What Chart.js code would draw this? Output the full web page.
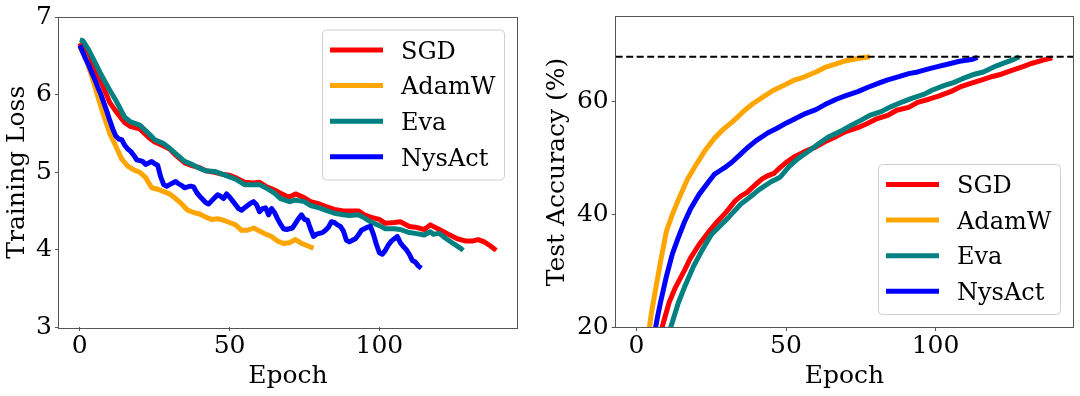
<!DOCTYPE html>
<html>
<head>
<meta charset="utf-8">
<script src="https://cdn.jsdelivr.net/npm/chart.js@4.4.0/dist/chart.umd.min.js"></script>
<style>
  html, body { margin: 0; padding: 0; background: #fff; }
  .wrap { position: relative; width: 1080px; height: 396px; overflow: hidden; }
  .panel { position: absolute; top: 0; width: 540px; height: 396px; }
  #lossPanel { left: 0; }
  #accPanel { left: 540px; }
</style>
</head>
<body>
<div class="wrap">
  <div class="panel" id="lossPanel"><canvas id="lossChart" width="540" height="396"></canvas></div>
  <div class="panel" id="accPanel"><canvas id="accChart" width="540" height="396"></canvas></div>
</div>
<script>
// ---- data ----
const methods = ['SGD', 'AdamW', 'Eva', 'NysAct'];
const epochTicks = [0, 50, 100];
const lossTicks = [3, 4, 5, 6, 7];
const accTicks = [20, 40, 60];
const targetAccuracy = 68.0;

// training loss
const sgdLossEpochs = [0,3,7,10,12,15,17,20,23,25,28,30,32,35,37,40,42,45,48,50,52,55,58,60,62,65,67,69,70,72,75,77,80,82,85,88,90,93,95,97,100,102,105,107,110,112,115,117,120,123,126,129,131,133,135,137,139];
const sgdLoss = [6.67,6.47,6.18,5.90,5.79,5.64,5.59,5.56,5.45,5.39,5.34,5.30,5.22,5.12,5.09,5.06,5.02,5.00,4.97,4.96,4.93,4.87,4.86,4.87,4.82,4.77,4.73,4.69,4.68,4.72,4.67,4.62,4.59,4.56,4.52,4.50,4.50,4.50,4.45,4.42,4.39,4.34,4.35,4.36,4.30,4.29,4.26,4.32,4.26,4.20,4.14,4.11,4.11,4.13,4.10,4.05,3.99];

const adamwLossEpochs = [0,2,4,6,8,10,12,14,16,18,20,22,24,26,28,30,32,34,36,38,40,42,44,46,48,50,52,54,56,58,60,62,64,66,68,70,72,74,76,78];
const adamwLoss = [6.62,6.47,6.24,5.98,5.73,5.50,5.34,5.17,5.08,5.03,5.00,4.93,4.80,4.78,4.75,4.72,4.66,4.59,4.51,4.48,4.46,4.42,4.39,4.40,4.38,4.35,4.32,4.25,4.25,4.28,4.24,4.20,4.17,4.11,4.08,4.09,4.13,4.08,4.05,4.02];

const evaLossEpochs = [0,1,3,7,10,12,15,17,20,23,25,28,30,32,35,37,40,42,45,48,50,52,55,58,60,62,65,67,70,72,75,77,80,82,85,88,90,93,95,97,100,102,105,107,110,112,115,117,118,120,122,125,127,128];
const evaLoss = [6.71,6.70,6.58,6.27,6.06,5.93,5.71,5.65,5.61,5.50,5.42,5.37,5.31,5.24,5.14,5.11,5.05,5.02,5.01,4.97,4.94,4.91,4.84,4.84,4.84,4.80,4.73,4.66,4.62,4.64,4.62,4.57,4.54,4.51,4.47,4.45,4.44,4.45,4.41,4.36,4.31,4.27,4.27,4.26,4.22,4.21,4.19,4.23,4.20,4.21,4.15,4.07,4.02,3.99];

// NysAct loss, one value per epoch 0..114
const nysactLoss = [
  6.64,6.55,6.46,6.38,6.29,6.20,6.10,6.01,5.90,5.79,
  5.67,5.56,5.47,5.43,5.42,5.35,5.30,5.27,5.22,5.16,
  5.15,5.14,5.10,5.12,5.14,5.11,5.09,4.94,4.84,4.82,
  4.84,4.86,4.88,4.85,4.83,4.80,4.81,4.82,4.81,4.74,
  4.69,4.65,4.61,4.59,4.63,4.67,4.71,4.69,4.66,4.72,
  4.68,4.63,4.58,4.53,4.51,4.54,4.57,4.60,4.62,4.58,
  4.49,4.53,4.54,4.45,4.53,4.48,4.40,4.33,4.27,4.26,
  4.27,4.28,4.34,4.40,4.45,4.39,4.38,4.27,4.17,4.20,
  4.21,4.22,4.25,4.29,4.36,4.35,4.32,4.30,4.24,4.12,
  4.10,4.12,4.14,4.19,4.25,4.27,4.29,4.30,4.20,4.07,
  3.96,3.94,3.99,4.06,4.11,4.14,4.17,4.09,4.04,4.00,
  3.94,3.86,3.84,3.79,3.76
];
const nysactLossEpochs = nysactLoss.map((_, i) => i);

// test accuracy (values below 20 fall under the axis and are clipped)
const sgdAccEpochs = [0,3,6,8,9,11,13,16,18,21,24,27,30,33,35,37,40,42,44,46,48,50,53,56,60,63,67,70,74,77,80,84,87,91,94,98,101,105,108,112,115,119,122,125,129,132,136,139];
const sgdAcc = [1.5,7.0,14.5,18.8,20.8,24.5,27.0,30.0,32.2,34.7,36.8,38.7,40.4,42.4,43.3,43.9,45.4,46.3,46.9,47.3,48.3,49.2,50.3,51.1,52.0,52.9,53.9,54.7,55.4,56.1,56.9,57.6,58.5,59.0,59.9,60.5,61.0,61.8,62.6,63.3,63.8,64.5,64.9,65.5,66.2,66.8,67.4,67.8];

const adamwAccEpochs = [0,2,4,5,6,8,10,12,14,17,20,23,26,29,32,36,39,43,46,50,53,56,60,63,67,70,74,78];
const adamwAcc = [3.0,11.0,18.7,22.5,25.5,31.5,37.0,40.0,42.6,46.2,48.9,51.4,53.5,55.1,56.4,58.4,59.7,61.1,62.1,63.1,63.9,64.4,65.3,66.1,66.8,67.3,67.7,68.0];

const evaAccEpochs = [0,4,8,10,11,12,14,16,19,22,25,28,31,35,38,41,45,48,51,54,58,61,64,68,71,75,78,82,85,89,92,96,99,103,106,109,113,116,120,123,126,128];
const evaAcc = [1.0,6.0,13.5,17.5,19.2,20.9,24.3,27.0,30.7,33.7,36.4,38.0,39.6,41.9,43.1,44.4,45.8,46.6,48.5,49.9,51.4,52.6,53.7,54.7,55.6,56.7,57.6,58.3,59.1,60.0,60.6,61.3,62.1,62.9,63.4,64.1,64.9,65.3,66.3,66.9,67.5,68.0];

const nysactAccEpochs = [0,3,5,6,7,8,10,12,14,16,18,21,24,26,28,30,32,35,37,40,44,47,50,53,56,60,63,67,70,74,77,81,84,88,91,94,98,101,105,108,112,114];
const nysactAcc = [2.0,9.0,15.5,18.8,21.7,24.3,29.0,33.0,35.9,38.6,40.9,43.6,45.7,47.1,47.8,48.5,49.3,50.8,51.8,53.1,54.5,55.3,56.2,57.0,57.8,58.6,59.5,60.5,61.1,61.8,62.5,63.3,63.9,64.5,65.0,65.3,65.9,66.3,66.8,67.2,67.5,67.9];

const colors = ['#ff0000', '#ffa500', '#008080', '#0000ff'];

const FONT = "'DejaVu Serif', serif";

function pts(xs, ys) {
    return xs.map((x, i) => ({ x: x, y: ys[i] }));
}

function roundRect(ctx, x, y, w, h, r) {
    ctx.beginPath();
    ctx.moveTo(x + r, y);
    ctx.lineTo(x + w - r, y);
    ctx.arcTo(x + w, y, x + w, y + r, r);
    ctx.lineTo(x + w, y + h - r);
    ctx.arcTo(x + w, y + h, x + w - r, y + h, r);
    ctx.lineTo(x + r, y + h);
    ctx.arcTo(x, y + h, x, y + h - r, r);
    ctx.lineTo(x, y + r);
    ctx.arcTo(x, y, x + r, y, r);
    ctx.closePath();
}

// frame, optional reference line and matplotlib-like legend inside the axes
const framePlugin = {
    id: 'frame',
    afterDatasetsDraw(chart, args, opts) {
        const ctx = chart.ctx;
        const a = chart.chartArea;
        ctx.save();

        if (opts.refLine !== undefined) {
            const y = chart.scales.y.getPixelForValue(opts.refLine);
            ctx.strokeStyle = '#000';
            ctx.lineWidth = 2;
            ctx.setLineDash([7, 3.5]);
            ctx.beginPath();
            ctx.moveTo(a.left, y);
            ctx.lineTo(a.right, y);
            ctx.stroke();
            ctx.setLineDash([]);
        }

        ctx.strokeStyle = '#555';
        ctx.lineWidth = 1;
        ctx.strokeRect(Math.round(a.left) - 0.5, Math.round(a.top) - 0.5,
            Math.round(a.right - a.left) + 1, Math.round(a.bottom - a.top) + 1);

        // legend
        const w = 182, h = 150, inset = 12.5;
        const bx = a.right - inset - w;
        const by = opts.legendAt === 'lower right' ? a.bottom - inset - h : a.top + inset;
        roundRect(ctx, bx, by, w, h, 4);
        ctx.fillStyle = 'rgba(255,255,255,0.8)';
        ctx.fill();
        ctx.strokeStyle = '#d0d0d0';
        ctx.lineWidth = 1;
        ctx.stroke();

        ctx.font = '24px ' + FONT;
        ctx.textBaseline = 'alphabetic';
        ctx.textAlign = 'left';
        chart.data.datasets.forEach((ds, i) => {
            const ry = by + 20 + i * 35.6;
            ctx.strokeStyle = ds.borderColor;
            ctx.lineWidth = 5;
            ctx.lineCap = 'butt';
            ctx.beginPath();
            ctx.moveTo(bx + 7.5, ry);
            ctx.lineTo(bx + 60.5, ry);
            ctx.stroke();
            ctx.fillStyle = '#000';
            ctx.fillText(ds.label, bx + 78.5, ry + 8.7);
        });

        ctx.restore();
    }
};

function makeDatasets(series) {
    return series.map((s, i) => ({
        label: methods[i],
        data: s,
        borderColor: colors[i],
        backgroundColor: colors[i],
        borderWidth: 5,
        pointRadius: 0,
        tension: 0,
        fill: false,
        clip: 0,
        order: 4 - i,
        borderJoinStyle: 'round',
        borderCapStyle: 'butt'
    }));
}

function axisOptions(ticks, title, min, max, fixedSize, isY) {
    return {
        type: 'linear',
        min: min,
        max: max,
        afterBuildTicks: (scale) => { scale.ticks = ticks.map(v => ({ value: v })); },
        afterFit: (scale) => {
            if (isY) scale.width = fixedSize; else scale.height = fixedSize;
        },
        grid: { display: true, drawOnChartArea: false, drawTicks: true, tickLength: 4, color: '#555', lineWidth: 1 },
        border: { display: false },
        ticks: {
            color: '#000',
            padding: 3,
            maxRotation: 0,
            autoSkip: false,
            font: { family: FONT, size: 25, lineHeight: 1 }
        },
        title: {
            display: true,
            text: title,
            color: '#000',
            font: { family: FONT, size: 25, lineHeight: 1.2 },
            padding: isY ? { top: 2, bottom: 0 } : { top: 0, bottom: 5 }
        }
    };
}

function baseOptions(padding) {
    return {
        responsive: false,
        devicePixelRatio: 1,
        animation: false,
        events: [],
        layout: { padding: padding },
        plugins: { legend: { display: false }, tooltip: { enabled: false } }
    };
}

function createLossChart() {
    const ctx = document.getElementById('lossChart').getContext('2d');
    const options = baseOptions({ left: 0, right: 23, top: 17.5, bottom: 0 });
    options.scales = {
        x: axisOptions(epochTicks, 'Epoch', -6.95, 145.95, 69, false),
        y: axisOptions(lossTicks, 'Training Loss', 3, 7, 59, true)
    };
    options.plugins.frame = { legendAt: 'upper right' };
    new Chart(ctx, {
        type: 'line',
        data: {
            datasets: makeDatasets([
                pts(sgdLossEpochs, sgdLoss),
                pts(adamwLossEpochs, adamwLoss),
                pts(evaLossEpochs, evaLoss),
                pts(nysactLossEpochs, nysactLoss)
            ])
        },
        options: options,
        plugins: [framePlugin]
    });
}

function createAccuracyChart() {
    const ctx = document.getElementById('accChart').getContext('2d');
    const options = baseOptions({ left: 0, right: 7, top: 17, bottom: 0 });
    options.scales = {
        x: axisOptions(epochTicks, 'Epoch', -6.95, 145.95, 69, false),
        y: axisOptions(accTicks, 'Test Accuracy (%)', 20, 75.06, 75.7, true)
    };
    options.plugins.frame = { legendAt: 'lower right', refLine: targetAccuracy };
    new Chart(ctx, {
        type: 'line',
        data: {
            datasets: makeDatasets([
                pts(sgdAccEpochs, sgdAcc),
                pts(adamwAccEpochs, adamwAcc),
                pts(evaAccEpochs, evaAcc),
                pts(nysactAccEpochs, nysactAcc)
            ])
        },
        options: options,
        plugins: [framePlugin]
    });
}

document.addEventListener('DOMContentLoaded', () => {
    createLossChart();
    createAccuracyChart();
});
</script>
</body>
</html>
